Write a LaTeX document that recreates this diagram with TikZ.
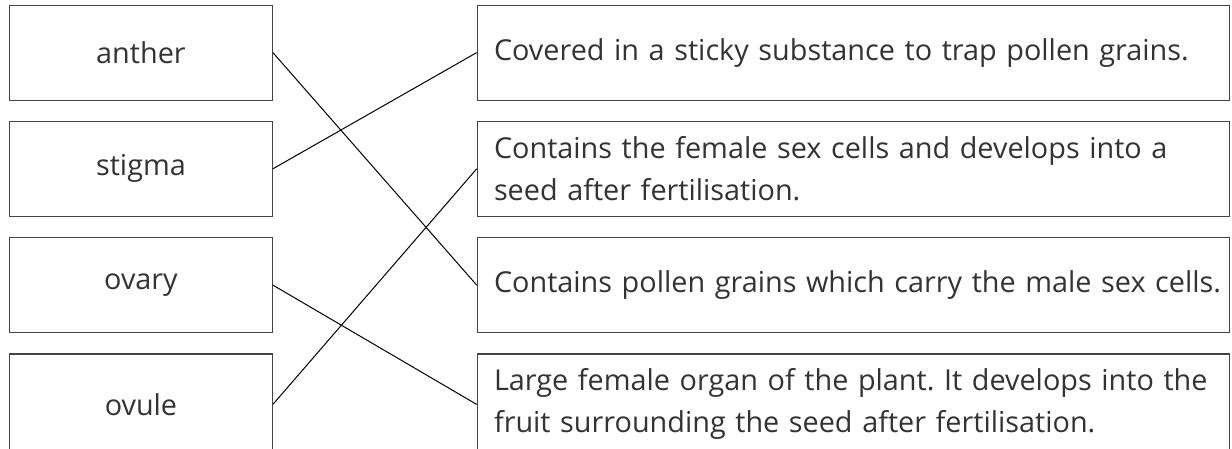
\documentclass[tikz,border=0pt]{standalone}
\usepackage{fontspec}
\setmainfont{Open Sans}
\definecolor{txt}{HTML}{333333}
\definecolor{bord}{HTML}{444444}
\frenchspacing
\hfuzz=100pt
\begin{document}
\begin{tikzpicture}[x=1pt,y=-1pt,
  lbox/.style={draw=bord, line width=1.2pt, minimum width=262.7pt, minimum height=95pt, inner sep=0pt, text=txt, font=\fontsize{28.8}{42}\selectfont, anchor=north west},
  rbox/.style={draw=bord, line width=1.2pt, minimum height=95pt, inner xsep=16.7pt, inner ysep=0pt, text width=718.9pt, align=left, text=txt, font=\fontsize{28.8}{42}\selectfont, anchor=north west},
  link/.style={line width=1pt, black}]
\useasboundingbox (0,0) rectangle (1232,448);
\clip (0,0) rectangle (1232,448);
\fill[white] (0,0) rectangle (1232,448);
\node[lbox] (anther) at (9,4.5) {anther};
\node[lbox] (stigma) at (9,120.7) {stigma};
\node[lbox] (ovary) at (9,237) {ovary};
\node[lbox, minimum height=101pt] (ovule) at (9,353.3) {ovule};
\node[rbox] (r1) at (476.7,4.5) {\mbox{Covered in a sticky substance to trap pollen grains.}};
\node[rbox] (r2) at (476.7,120.7) {\mbox{Contains the female sex cells and develops into a}\\\mbox{seed after fertilisation.}};
\node[rbox] (r3) at (476.7,237) {\mbox{Contains pollen grains which carry the male sex cells.}};
\node[rbox, minimum height=101pt] (r4) at (476.7,353.3) {\mbox{Large female organ of the plant. It develops into the}\\\mbox{fruit surrounding the seed after fertilisation.}};
\draw[link] (anther.east) -- (r3.west);
\draw[link] (stigma.east) -- (r1.west);
\draw[link] (ovary.east) -- (r4.west);
\draw[link] (ovule.east) -- (r2.west);
\end{tikzpicture}
\end{document}
